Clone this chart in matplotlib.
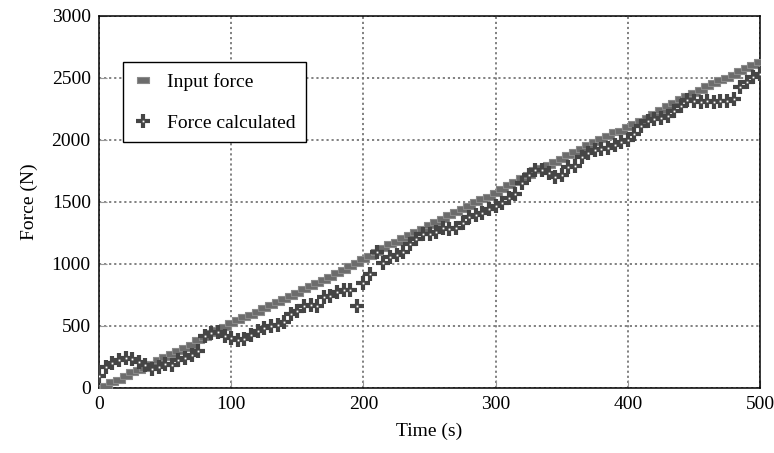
import numpy as np
import matplotlib
matplotlib.use("Agg")
import matplotlib.pyplot as plt

# sampling instants (s)
time = np.arange(0, 501, 5)

input_force = [
    0, 20, 45, 65, 100, 125, 145, 160, 195, 225,
    250, 275, 300, 325, 345, 385, 410, 440, 470, 495,
    520, 550, 570, 590, 615, 645, 670, 695, 720, 740,
    765, 795, 820, 845, 870, 895, 930, 955, 980, 1005,
    1040, 1065, 1100, 1130, 1160, 1180, 1210, 1230, 1255, 1280,
    1315, 1340, 1365, 1395, 1420, 1445, 1470, 1500, 1520, 1540,
    1570, 1605, 1635, 1660, 1690, 1720, 1755, 1775, 1795, 1820,
    1845, 1875, 1900, 1925, 1955, 1980, 2010, 2035, 2060, 2075,
    2105, 2130, 2155, 2180, 2205, 2245, 2275, 2300, 2330, 2350,
    2375, 2405, 2435, 2460, 2480, 2500, 2520, 2555, 2580, 2605,
    2630,
]

force_calculated = [
    100, 170, 200, 225, 240, 235, 210, 185, 150, 170,
    195, 185, 225, 240, 265, 300, 420, 445, 450, 420,
    400, 390, 395, 430, 460, 480, 500, 505, 530, 600,
    620, 660, 670, 665, 730, 745, 770, 790, 790, 665,
    850, 920, 1100, 1010, 1060, 1075, 1100, 1160, 1200, 1245,
    1240, 1260, 1290, 1280, 1290, 1330, 1380, 1395, 1410, 1440,
    1470, 1490, 1530, 1560, 1650, 1720, 1760, 1755, 1730, 1700,
    1720, 1785, 1790, 1860, 1895, 1915, 1930, 1935, 1955, 1980,
    2000, 2050, 2110, 2150, 2170, 2180, 2190, 2230, 2270, 2320,
    2315, 2305, 2310, 2305, 2310, 2315, 2330, 2430, 2470, 2510,
    2535,
]

plt.rcParams["font.family"] = ["Liberation Serif", "DejaVu Serif"]
plt.rcParams["font.size"] = 14

fig = plt.figure(figsize=(7.74, 4.53), dpi=100)
ax = fig.add_axes([0.128, 0.1435, 0.854, 0.8215])

dash = [(-1, -0.5), (1, -0.5), (1, 0.5), (-1, 0.5), (-1, -0.5)]

h_in, = ax.plot(time, input_force, linestyle="none", marker=dash,
                markersize=8.5, color="#6c6c6c", markeredgecolor="#8a8a8a",
                markeredgewidth=0.8, zorder=3)
h_plus, = ax.plot(time, force_calculated, linestyle="none", marker="+",
                  markersize=10, markeredgecolor="#454545",
                  markeredgewidth=3.0, zorder=4)
# small light centre of each plus
h_dot, = ax.plot(time, force_calculated, linestyle="none", marker="s",
                 markersize=1.3, color="white", markeredgewidth=0, zorder=5)

ax.set_xlim(0, 500)
ax.set_ylim(0, 3000)
ax.set_xticks([0, 100, 200, 300, 400, 500])
ax.set_yticks([0, 500, 1000, 1500, 2000, 2500, 3000])
ax.set_xlabel("Time (s)", labelpad=7)
ax.set_ylabel("Force (N)", labelpad=10)

ax.grid(True, linestyle=(0, (1.2, 1.6)), color="#777777", linewidth=1.3)
ax.tick_params(direction="in", length=6, color="#999999", pad=6)
for s in ax.spines.values():
    s.set_color("black")
    s.set_linewidth(1.1)

leg = ax.legend([h_in, (h_plus, h_dot)], ["Input force", "Force calculated"],
                loc="upper left", bbox_to_anchor=(0.036, 0.876),
                fancybox=False, edgecolor="black", framealpha=1,
                labelspacing=1.2, handlelength=1.0, handletextpad=0.7,
                borderpad=0.55, borderaxespad=0)
leg.get_frame().set_linewidth(1.0)

fig.savefig("out.png", dpi=100)
